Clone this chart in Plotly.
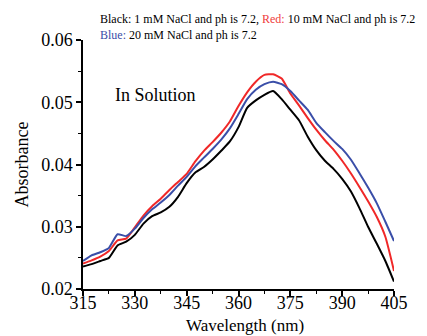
import plotly.graph_objects as go

wavelength = [315, 317.5, 320, 322.5, 325, 327.5, 330, 332.5, 335, 337.5, 340, 342.5, 345, 347.5,
              350, 352.5, 355, 357.5, 360, 362.5, 365, 367.5, 370, 372.5, 375, 377.5, 380, 382.5,
              385, 387.5, 390, 392.5, 395, 397.5, 400, 402.5, 405]

black_1mM = [0.0236, 0.0240, 0.0245, 0.0250, 0.0270, 0.0276, 0.0287, 0.0305, 0.0317, 0.0323, 0.0332,
             0.0348, 0.0370, 0.0387, 0.0396, 0.0408, 0.0422, 0.0437, 0.0460, 0.0491, 0.0503, 0.0512,
             0.0518, 0.0505, 0.0488, 0.0471, 0.0445, 0.0423, 0.0406, 0.0393, 0.0377, 0.0357, 0.0330,
             0.0300, 0.0273, 0.0245, 0.0212]

red_10mM = [0.0241, 0.0246, 0.0252, 0.0261, 0.0278, 0.0281, 0.0299, 0.0318, 0.0333, 0.0345, 0.0359,
            0.0372, 0.0385, 0.0405, 0.0422, 0.0436, 0.0451, 0.0469, 0.0494, 0.0516, 0.0533, 0.0544,
            0.0545, 0.0538, 0.0514, 0.0495, 0.0475, 0.0456, 0.0439, 0.0424, 0.0406, 0.0386, 0.0364,
            0.0341, 0.0316, 0.0284, 0.0229]

blue_20mM = [0.0245, 0.0254, 0.0259, 0.0266, 0.0288, 0.0285, 0.0297, 0.0314, 0.0328, 0.0339, 0.0351,
             0.0366, 0.0380, 0.0397, 0.0411, 0.0425, 0.0440, 0.0458, 0.0481, 0.0505, 0.0520, 0.0529,
             0.0533, 0.0529, 0.0518, 0.0503, 0.0488, 0.0467, 0.0452, 0.0438, 0.0425, 0.0408, 0.0386,
             0.0363, 0.0338, 0.0308, 0.0277]

x_ticks = [315, 330, 345, 360, 375, 390, 405]
x_minor = [322.5, 337.5, 352.5, 367.5, 382.5, 397.5]
y_ticks = [0.02, 0.03, 0.04, 0.05, 0.06]
y_tick_labels = ["0.02", "0.03", "0.04", "0.05", "0.06"]
y_minor = [0.025, 0.035, 0.045, 0.055]

FONT = "Liberation Serif, Times New Roman, serif"

fig = go.Figure()
for ys, col in [(black_1mM, "#000000"), (red_10mM, "#f02828"), (blue_20mM, "#3a4ea8")]:
    fig.add_trace(go.Scatter(x=wavelength, y=ys, mode="lines",
                             line=dict(color=col, width=2, shape="spline", smoothing=0.5),
                             showlegend=False))

axis_common = dict(showline=True, linecolor="black", linewidth=1.5, ticks="outside",
                   tickcolor="black", tickwidth=1.5, ticklen=5, showgrid=False, zeroline=False,
                   tickfont=dict(family=FONT, size=18, color="black"), mirror=False,
                   automargin=False)

fig.update_xaxes(range=[315, 405], tickvals=x_ticks, ticklabelstandoff=-8,
                 minor=dict(tickvals=x_minor, ticks="outside", ticklen=3,
                            tickcolor="black", tickwidth=1.2),
                 **axis_common)
fig.update_yaxes(range=[0.02, 0.06], tickvals=y_ticks, ticktext=y_tick_labels,
                 minor=dict(tickvals=y_minor, ticks="outside", ticklen=3,
                            tickcolor="black", tickwidth=1.2),
                 title=dict(text="Absorbance", font=dict(family=FONT, size=18, color="black"),
                            standoff=8),
                 **axis_common)

fig.add_annotation(xref="paper", yref="paper", x=0.52, y=-0.1466, xanchor="center", yanchor="middle",
                   showarrow=False, font=dict(family=FONT, size=17, color="black"),
                   text="Wavelength (nm)")
fig.add_annotation(xref="paper", yref="paper", x=0.048, y=1.084, xanchor="left", yanchor="middle",
                   showarrow=False, font=dict(family=FONT, size=12, color="black"),
                   text="Black: 1 mM NaCl and ph is 7.2, <span style='color:#f03c3c'>Red:</span> 10 mM NaCl and ph is 7.2")
fig.add_annotation(xref="paper", yref="paper", x=0.048, y=1.020, xanchor="left", yanchor="middle",
                   showarrow=False, font=dict(family=FONT, size=12, color="black"),
                   text="<span style='color:#3a4ea8'>Blue:</span> 20 mM NaCl and ph is 7.2")
fig.add_annotation(xref="paper", yref="paper", x=0.0965, y=0.779, xanchor="left", yanchor="middle",
                   showarrow=False, font=dict(family=FONT, size=18, color="black"),
                   text="In Solution")

fig.update_layout(width=427, height=336, margin=dict(l=83, r=33, t=40, b=47),
                  paper_bgcolor="white", plot_bgcolor="white")

fig.write_html("out.html")
